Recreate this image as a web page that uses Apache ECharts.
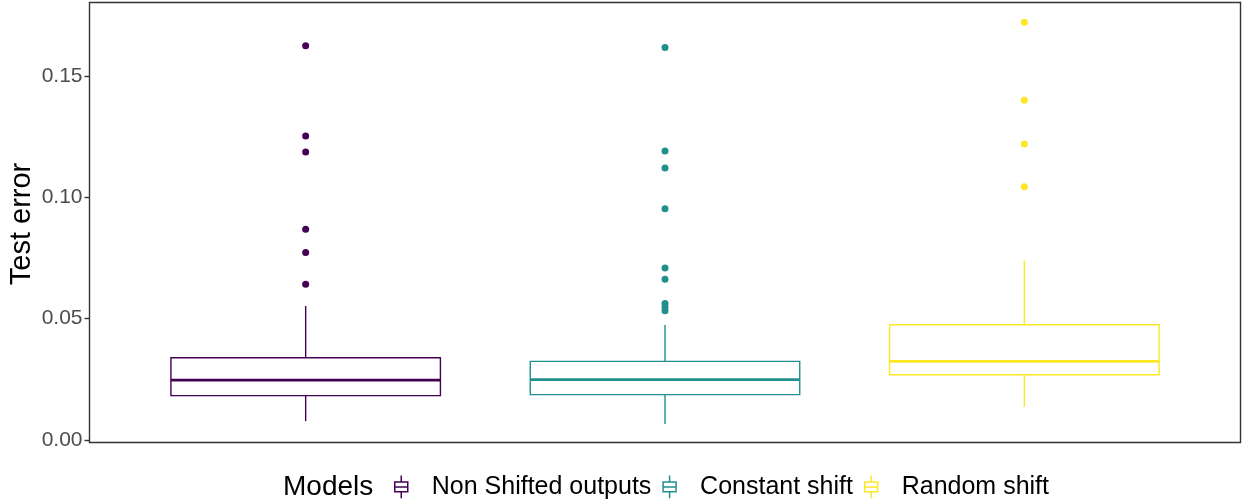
<!DOCTYPE html>
<html><head><meta charset="utf-8">
<script src="https://cdn.jsdelivr.net/npm/echarts@6/dist/echarts.min.js"></script>
<style>html,body{margin:0;padding:0;background:#fff}#c{width:1243px;height:500px}</style>
</head><body><div id="c"></div>
<script>
const categories = ['Non Shifted outputs', 'Constant shift', 'Random shift'];
const colors = ['#440154', '#21908C', '#FDE725'];
const lowerWhisker = [0.0078, 0.0066, 0.0137];
const q1 = [0.0183, 0.0187, 0.0269];
const median = [0.0247, 0.0249, 0.0324];
const q3 = [0.0339, 0.0324, 0.0475];
const upperWhisker = [0.0552, 0.0474, 0.0739];
const outliersNonShifted = [0.1625, 0.1253, 0.1187, 0.0868, 0.0773, 0.0642];
const outliersConstant = [0.1617, 0.1191, 0.1121, 0.0953, 0.0709, 0.0662, 0.0562, 0.0547, 0.0533];
const outliersRandom = [0.1721, 0.1400, 0.1220, 0.1044];
const yTickLabels = ['0.00', '0.05', '0.10', '0.15'];
const yTitle = 'Test error';
const legendTitle = 'Models';

const outliers = [outliersNonShifted, outliersConstant, outliersRandom];
const FONT = '"Liberation Sans", Arial, sans-serif';
const iconPath = 'path://M6,0L6,6M0,6L12,6L12,15L0,15ZM0,10.5L12,10.5M6,15L6,21';

function renderBox(params, api) {
  const x = api.value(0);
  const pLo = api.coord([x, api.value(1)]);
  const pQ1 = api.coord([x, api.value(2)]);
  const pMed = api.coord([x, api.value(3)]);
  const pQ3 = api.coord([x, api.value(4)]);
  const pHi = api.coord([x, api.value(5)]);
  const band = api.size([1, 0])[0];
  const hw = band * 0.75 / 2;
  const cx = pMed[0];
  const color = api.visual('color');
  const lw = 1.4;
  return {
    type: 'group',
    children: [
      { type: 'line', shape: { x1: cx, y1: pHi[1], x2: cx, y2: pQ3[1] }, style: { stroke: color, lineWidth: lw } },
      { type: 'line', shape: { x1: cx, y1: pQ1[1], x2: cx, y2: pLo[1] }, style: { stroke: color, lineWidth: lw } },
      { type: 'rect', shape: { x: cx - hw, y: pQ3[1], width: 2 * hw, height: pQ1[1] - pQ3[1] }, style: { fill: '#fff', stroke: color, lineWidth: lw } },
      { type: 'line', shape: { x1: cx - hw, y1: pMed[1], x2: cx + hw, y2: pMed[1] }, style: { stroke: color, lineWidth: 2.8 } }
    ]
  };
}

const series = [];
categories.forEach((name, i) => {
  series.push({
    name: name,
    type: 'custom',
    xAxisIndex: 2, yAxisIndex: 2,
    itemStyle: { color: colors[i] },
    renderItem: renderBox,
    encode: { x: 0, y: [1, 2, 3, 4, 5] },
    data: [[i, lowerWhisker[i], q1[i], median[i], q3[i], upperWhisker[i]]],
    z: 2
  });
});
categories.forEach((name, i) => {
  series.push({
    name: name,
    type: 'scatter',
    xAxisIndex: 2, yAxisIndex: 2,
    symbol: 'circle',
    symbolSize: 7,
    itemStyle: { color: colors[i], opacity: 1 },
    data: outliers[i].map(v => [i, v]),
    z: 3
  });
});

const chart = echarts.init(document.getElementById('c'), null, { renderer: 'canvas' });
chart.setOption({
  animation: false,
  backgroundColor: '#fff',
  grid: [
    { left: 89.5, right: 2.5, top: 2.5, height: 440, show: true, borderColor: '#333', borderWidth: 1.4, backgroundColor: 'transparent' },
    { left: 89.5, right: 2.5, top: 76, height: 364 },
    { left: 126, width: 1078, top: 2.5, height: 440 }
  ],
  xAxis: [
    { gridIndex: 0, type: 'value', show: false },
    { gridIndex: 1, type: 'value', show: false },
    { gridIndex: 2, type: 'category', data: categories, show: false, boundaryGap: true }
  ],
  yAxis: [
    { gridIndex: 0, type: 'value', show: false },
    {
      gridIndex: 1, type: 'value', min: 0, max: 0.15, interval: 0.05,
      axisLine: { show: false },
      axisTick: { show: true, length: 5, lineStyle: { color: '#333', width: 1.4 } },
      splitLine: { show: false },
      axisLabel: {
        margin: 7, color: '#4D4D4D', fontSize: 21, fontFamily: FONT,
        formatter: (v) => yTickLabels[Math.round(v / 0.05)] || ''
      }
    },
    { gridIndex: 2, type: 'value', min: -0.00103, max: 0.18029, show: false }
  ],
  legend: {
    left: 394, top: 474.4, padding: 0,
    itemWidth: 13, itemHeight: 26.25, itemGap: 11,
    selectedMode: false,
    textStyle: { fontSize: 25, fontFamily: FONT, color: '#000', padding: [0, 0, 0, 19] },
    data: categories.map((n, i) => ({
      name: n, icon: iconPath,
      itemStyle: { color: 'rgba(0,0,0,0)', borderColor: colors[i], borderWidth: 1.5 }
    }))
  },
  graphic: [
    { type: 'text', x: 22, y: 224, rotation: Math.PI / 2,
      style: { text: yTitle, font: '29px ' + FONT, fill: '#000', textAlign: 'center', textVerticalAlign: 'middle' } },
    { type: 'text', x: 283, y: 487,
      style: { text: legendTitle, font: '28px ' + FONT, fill: '#000', textAlign: 'left', textVerticalAlign: 'middle' } }
  ],
  series: series
});
</script>
</body></html>
